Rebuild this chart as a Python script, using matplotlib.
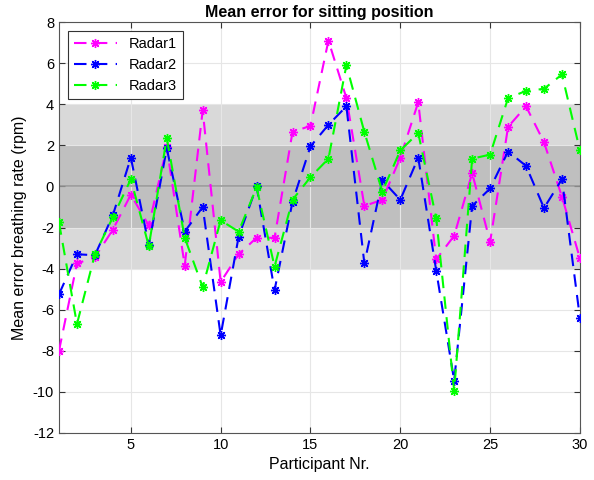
import matplotlib.pyplot as plt

plt.rcParams['font.family'] = ['Liberation Sans', 'DejaVu Sans']
plt.rcParams['axes.unicode_minus'] = False

participants = list(range(1, 31))

radar1 = [-8.0, -3.75, -3.45, -2.1, -0.4, -1.9, 1.9, -3.85, 3.7, -4.65,
          -3.3, -2.5, -2.5, 2.65, 2.95, 7.1, 4.3, -0.95, -0.65, 1.4,
          4.1, -3.55, -2.4, 0.65, -2.7, 2.9, 3.9, 2.15, -0.5, -3.5]
radar2 = [-5.25, -3.3, -3.35, -1.4, 1.4, -2.85, 1.85, -2.2, -1.0, -7.25,
          -2.45, 0.0, -5.05, -0.75, 1.95, 3.0, 3.9, -3.75, 0.3, -0.65,
          1.4, -4.1, -9.45, -0.95, -0.1, 1.7, 1.0, -1.05, 0.35, -6.4]
radar3 = [-1.75, -6.7, -3.3, -1.5, 0.35, -2.9, 2.35, -2.5, -4.9, -1.65,
          -2.2, -0.05, -3.9, -0.65, 0.45, 1.35, 5.9, 2.65, -0.25, 1.75,
          2.6, -1.55, -9.95, 1.35, 1.55, 4.3, 4.65, 4.75, 5.45, 1.75]

series = [("Radar1", radar1, "#ff00ff"),
          ("Radar2", radar2, "#0000ff"),
          ("Radar3", radar3, "#00ff00")]

fig = plt.figure(figsize=(5.94, 4.8), dpi=100)
ax = fig.add_axes([0.0993, 0.098, 0.877, 0.856])

# tolerance bands
ax.axhspan(-4, 4, color="#d9d9d9", zorder=0, lw=0)
ax.axhspan(-2, 2, color="#bfbfbf", zorder=0.5, lw=0)
ax.axhline(0, color="#999999", lw=1.2, zorder=1)

for name, vals, col in series:
    ax.plot(participants, vals, ls=(0, (6, 4)), color=col, lw=1.5,
            marker=(8, 2, 0), ms=6.5, mew=1.0, label=name, zorder=3)

ax.set_xlim(1, 30)
ax.set_ylim(-12, 8)
ax.set_xticks([5, 10, 15, 20, 25, 30])
ax.set_yticks(range(-12, 9, 2))
ax.grid(True, color="#e6e6e6", lw=0.8, zorder=0.8)
ax.set_axisbelow(True)
ax.tick_params(direction="in", length=4, labelsize=10.5, color="#333333",
               top=True, right=True, labeltop=False, labelright=False)
for sp in ax.spines.values():
    sp.set_color("#555555")
    sp.set_linewidth(0.8)

ax.set_title("Mean error for sitting position", fontsize=11.5, fontweight="bold", pad=4)
ax.set_xlabel("Participant Nr.", fontsize=11.5)
ax.set_ylabel("Mean error breathing rate (rpm)", fontsize=11.5)

leg = ax.legend(loc="upper left", fontsize=10.5, fancybox=False, framealpha=1,
                edgecolor="#333333", handlelength=3.0, borderaxespad=0.6)
leg.get_frame().set_linewidth(0.8)

fig.savefig("out.png", dpi=100)
